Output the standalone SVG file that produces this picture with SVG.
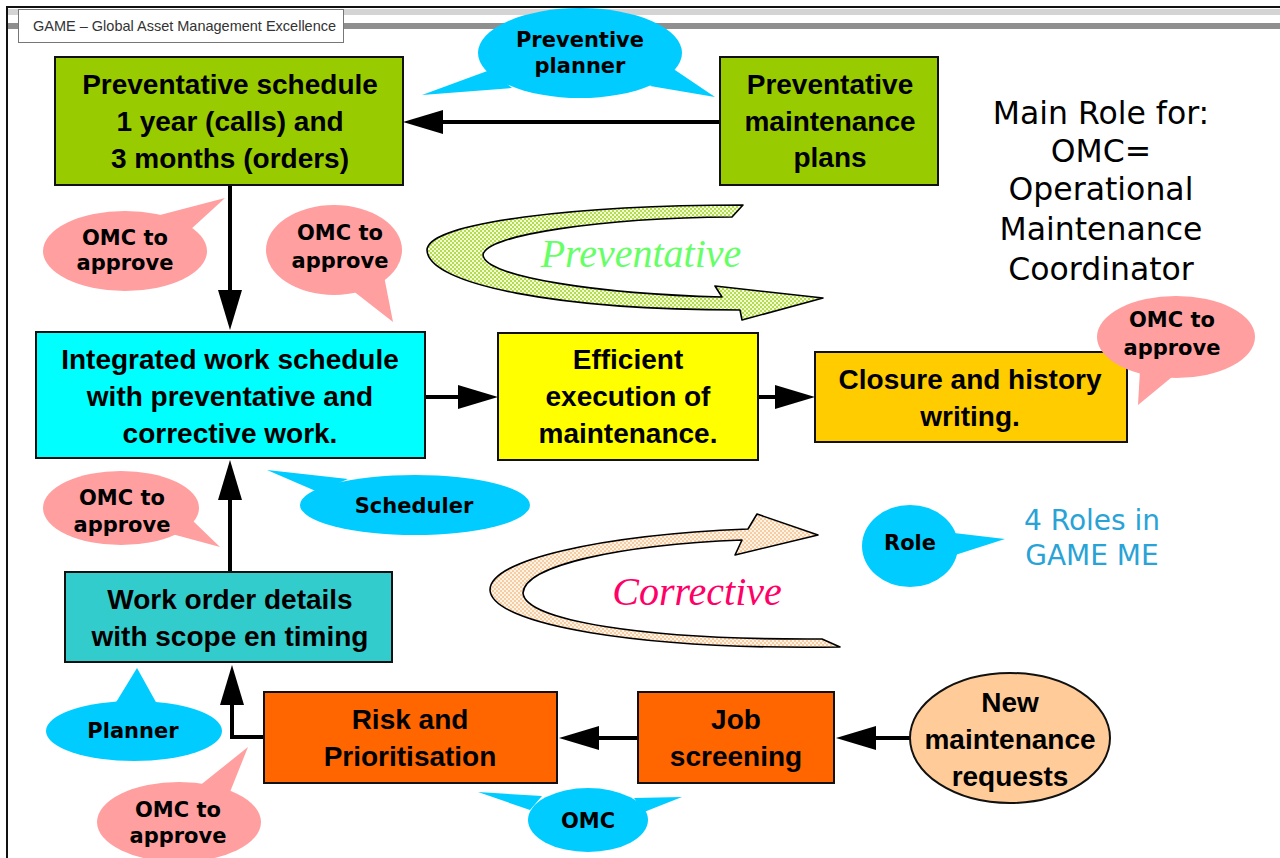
<svg xmlns="http://www.w3.org/2000/svg" width="1280" height="858" viewBox="0 0 1280 858">
  <defs>
    <style>
      .box { stroke: #111; stroke-width: 2; }
      .bt { font-family: "Liberation Sans", Arial, sans-serif; font-weight: bold; font-size: 28px; fill: #000; text-anchor: middle; }
      .ct { font-family: "DejaVu Sans", sans-serif; font-weight: bold; font-size: 21px; fill: #000; text-anchor: middle; }
      .pink { fill: #ff9f9f; }
      .sky { fill: #00ccff; }
      .conn { fill: none; stroke: #000; stroke-width: 4; }
      .role { font-family: "DejaVu Sans", sans-serif; font-size: 31.5px; fill: #000; text-anchor: middle; }
      .roles4 { font-family: "DejaVu Sans", sans-serif; font-size: 28px; fill: #29a3d6; text-anchor: middle; }
      .loop { stroke: #000; stroke-width: 1.6; stroke-linejoin: round; }
      .loopt { font-family: "Liberation Serif", "Times New Roman", serif; font-style: italic; font-size: 40px; text-anchor: middle; }
    </style>
    <marker id="arr" markerUnits="userSpaceOnUse" markerWidth="40" markerHeight="24" refX="30" refY="12" orient="auto" overflow="visible">
      <path d="M0,0 L40,12 L0,24 Z" fill="#000"/>
    </marker>
    <pattern id="dotGreen" width="4" height="4" patternUnits="userSpaceOnUse">
      <rect width="4" height="4" fill="#b4dc4c"/>
      <rect width="2" height="2" fill="#f2fbd8"/>
      <rect x="2" y="2" width="2" height="2" fill="#f2fbd8"/>
    </pattern>
    <pattern id="dotPeach" width="4" height="4" patternUnits="userSpaceOnUse">
      <rect width="4" height="4" fill="#f6cda2"/>
      <rect width="2" height="2" fill="#fff3e6"/>
      <rect x="2" y="2" width="2" height="2" fill="#fff3e6"/>
    </pattern>
  </defs>

  <rect width="1280" height="858" fill="#fff"/>

  <!-- slide frame and header -->
  <g id="frame">
    <rect x="8" y="9" width="1272" height="6" fill="#d4d4d4"/>
    <rect x="8" y="23" width="1272" height="6" fill="#8f8f8f"/>
    <line x1="7" y1="7" x2="1280" y2="7" stroke="#111" stroke-width="2"/>
    <line x1="7" y1="6" x2="7" y2="858" stroke="#111" stroke-width="2"/>
    <rect x="18.5" y="9.5" width="325" height="33" fill="#fff" stroke="#777"/>
    <text x="33" y="31" font-family="Liberation Sans, Arial, sans-serif" font-size="14.5" fill="#333">GAME – Global Asset Management Excellence</text>
  </g>

  <!-- cycle arrows -->
  <g id="preventative-loop">
    <path class="loop" fill="url(#dotGreen)" d="M743,205 L732,217 C600,218 485,235 483,255 C485,277 600,294 722,297 L715,286 L823,298 L742,320 L740,310 C560,310 428,285 427,250 C428,222 580,205 743,205 Z"/>
    <text class="loopt" x="641" y="267" fill="#66ff66">Preventative</text>
  </g>
  <g id="corrective-loop">
    <path class="loop" fill="url(#dotPeach)" d="M818,535 L757,514 L748,529 C600,535 490,560 490,590 C492,625 640,650 840,647 L822,639 C640,640 525,620 523,593 C525,565 620,545 742,540 L735,555 Z"/>
    <text class="loopt" x="697" y="605" fill="#ff0066">Corrective</text>
  </g>

  <!-- connectors -->
  <g id="connectors">
    <line class="conn" x1="720" y1="122" x2="413" y2="122" marker-end="url(#arr)"/>
    <line class="conn" x1="230" y1="185" x2="230" y2="320" marker-end="url(#arr)"/>
    <line class="conn" x1="425" y1="397" x2="488" y2="397" marker-end="url(#arr)"/>
    <line class="conn" x1="758" y1="397" x2="805" y2="397" marker-end="url(#arr)"/>
    <line class="conn" x1="230" y1="572" x2="230" y2="470" marker-end="url(#arr)"/>
    <polyline class="conn" points="264,737 232,737 232,675" marker-end="url(#arr)"/>
    <line class="conn" x1="638" y1="738" x2="569" y2="738" marker-end="url(#arr)"/>
    <line class="conn" x1="910" y1="738" x2="846" y2="738" marker-end="url(#arr)"/>
  </g>

  <!-- process nodes -->
  <g id="prev-schedule">
    <rect class="box" x="55" y="57" width="348" height="128" fill="#99cc00"/>
    <text class="bt" x="230" y="94">Preventative  schedule</text>
    <text class="bt" x="230" y="131">1 year (calls) and</text>
    <text class="bt" x="230" y="168">3 months (orders)</text>
  </g>
  <g id="prev-plans">
    <rect class="box" x="720" y="57" width="218" height="128" fill="#99cc00"/>
    <text class="bt" x="830" y="94">Preventative</text>
    <text class="bt" x="830" y="131">maintenance</text>
    <text class="bt" x="830" y="167">plans</text>
  </g>
  <g id="integrated">
    <rect class="box" x="36" y="332" width="389" height="126" fill="#00ffff"/>
    <text class="bt" x="230" y="369">Integrated work schedule</text>
    <text class="bt" x="230" y="406">with preventative and</text>
    <text class="bt" x="230" y="443">corrective work.</text>
  </g>
  <g id="execution">
    <rect class="box" x="498" y="333" width="260" height="127" fill="#ffff00"/>
    <text class="bt" x="628" y="369">Efficient</text>
    <text class="bt" x="628" y="406">execution of</text>
    <text class="bt" x="628" y="443">maintenance.</text>
  </g>
  <g id="closure">
    <rect class="box" x="815" y="352" width="312" height="90" fill="#ffcc00"/>
    <text class="bt" x="970" y="389">Closure and history</text>
    <text class="bt" x="970" y="426">writing.</text>
  </g>
  <g id="work-order">
    <rect class="box" x="65" y="572" width="327" height="90" fill="#33cccc"/>
    <text class="bt" x="230" y="609">Work order details</text>
    <text class="bt" x="230" y="646">with scope en timing</text>
  </g>
  <g id="risk">
    <rect class="box" x="264" y="692" width="293" height="91" fill="#ff6600"/>
    <text class="bt" x="410" y="729">Risk and</text>
    <text class="bt" x="410" y="766">Prioritisation</text>
  </g>
  <g id="screening">
    <rect class="box" x="638" y="692" width="196" height="91" fill="#ff6600"/>
    <text class="bt" x="736" y="729">Job</text>
    <text class="bt" x="736" y="766">screening</text>
  </g>
  <g id="requests">
    <ellipse class="box" cx="1010" cy="738" rx="100" ry="65" fill="#ffcc99"/>
    <text class="bt" x="1010" y="712">New</text>
    <text class="bt" x="1010" y="749">maintenance</text>
    <text class="bt" x="1010" y="786">requests</text>
  </g>

  <!-- role callouts -->
  <g id="callout-preventive-planner" class="sky">
    <ellipse cx="580" cy="53" rx="102" ry="45"/>
    <polygon points="490,70 512,88 422,95"/>
    <polygon points="650,86 672,68 715,97"/>
    <text class="ct" x="580" y="47" font-size="20">Preventive</text>
    <text class="ct" x="580" y="73" font-size="20">planner</text>
  </g>
  <g id="callout-omc-1" class="pink">
    <ellipse cx="125" cy="251" rx="82" ry="40"/>
    <polygon points="160,215 190,230 225,198"/>
    <text class="ct" x="125" y="245">OMC to</text>
    <text class="ct" x="125" y="270">approve</text>
  </g>
  <g id="callout-omc-2" class="pink">
    <ellipse cx="334" cy="250" rx="68" ry="45"/>
    <polygon points="352,290 384,276 393,322"/>
    <text class="ct" x="340" y="240">OMC to</text>
    <text class="ct" x="340" y="268">approve</text>
  </g>
  <g id="callout-omc-3" class="pink">
    <ellipse cx="1176" cy="337" rx="79" ry="41"/>
    <polygon points="1140,370 1172,377 1138,405"/>
    <text class="ct" x="1172" y="327">OMC to</text>
    <text class="ct" x="1172" y="355">approve</text>
  </g>
  <g id="callout-scheduler" class="sky">
    <ellipse cx="415" cy="505" rx="115" ry="30"/>
    <polygon points="318,492 348,479 267,470"/>
    <text class="ct" x="414" y="513" font-size="23">Scheduler</text>
  </g>
  <g id="callout-omc-4" class="pink">
    <ellipse cx="121" cy="508" rx="78" ry="37"/>
    <polygon points="172,534 192,520 220,547"/>
    <text class="ct" x="122" y="505">OMC to</text>
    <text class="ct" x="122" y="532">approve</text>
  </g>
  <g id="callout-planner" class="sky">
    <ellipse cx="134" cy="731" rx="88" ry="30"/>
    <polygon points="115,704 157,704 137,668"/>
    <text class="ct" x="133" y="738" font-size="23">Planner</text>
  </g>
  <g id="callout-omc-5" class="pink">
    <ellipse cx="179" cy="822" rx="82" ry="40"/>
    <polygon points="198,787 228,797 248,747"/>
    <text class="ct" x="178" y="817">OMC to</text>
    <text class="ct" x="178" y="843">approve</text>
  </g>
  <g id="callout-omc-6" class="sky">
    <ellipse cx="588" cy="820" rx="60" ry="32"/>
    <polygon points="530,810 542,796 478,792"/>
    <polygon points="634,798 644,812 682,797"/>
    <text class="ct" x="588" y="828" font-size="22">OMC</text>
  </g>
  <g id="legend-role" class="sky">
    <ellipse cx="910" cy="546" rx="48" ry="41"/>
    <polygon points="954,533 952,556 1005,539"/>
    <text class="ct" x="910" y="550" font-size="20">Role</text>
  </g>

  <!-- notes -->
  <g id="legend-text">
    <text class="roles4" x="1092" y="530">4 Roles in</text>
    <text class="roles4" x="1092" y="565">GAME ME</text>
  </g>
  <g id="main-role">
    <text class="role" x="1101" y="124">Main Role for:</text>
    <text class="role" x="1101" y="162">OMC=</text>
    <text class="role" x="1101" y="200">Operational</text>
    <text class="role" x="1101" y="240">Maintenance</text>
    <text class="role" x="1101" y="280">Coordinator</text>
  </g>
</svg>
